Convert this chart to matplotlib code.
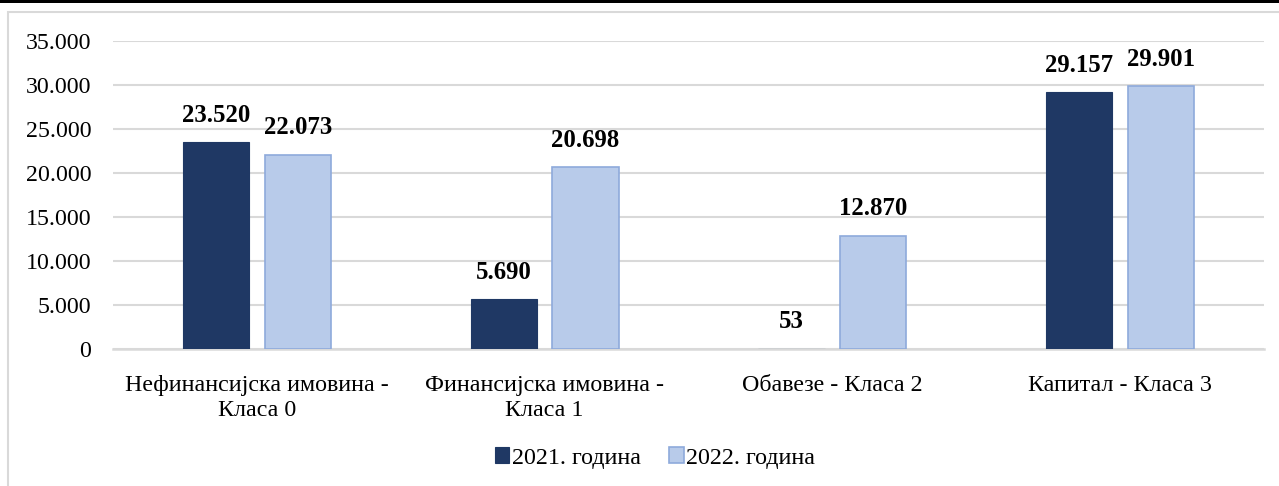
import matplotlib
matplotlib.use('Agg')
from matplotlib import pyplot as plt
from matplotlib.patches import Rectangle
import numpy as np

# Data
categories = ['Нефинансијска имовина -\nКласа 0', 'Финансијска имовина -\nКласа 1',
              'Обавезе - Класа 2', 'Капитал - Класа 3']
series_names = ['2021. година', '2022. година']
values_2021 = [23520, 5690, 53, 29157]
values_2022 = [22073, 20698, 12870, 29901]
y_ticks = [0, 5000, 10000, 15000, 20000, 25000, 30000, 35000]

plt.rcParams['font.family'] = ['Liberation Serif', 'DejaVu Serif']

dark = '#1f3864'
light = '#b8cbea'
light_edge = '#8eaadb'


def fmt(v):
    return '{:,}'.format(v).replace(',', '.')


fig = plt.figure(figsize=(12.79, 4.86), dpi=100)
ax = fig.add_axes([113 / 1279, 1 - 349 / 486, 1151 / 1279, 308 / 486])

# chart frame and top rule
fig.patches.append(Rectangle((8 / 1279, -0.01), 1.1, 1 - 12 / 486 + 0.01,
                             transform=fig.transFigure, fill=False,
                             edgecolor='#d9d9d9', lw=1.5))
fig.patches.append(Rectangle((0, 1 - 3 / 486), 1, 3 / 486, transform=fig.transFigure,
                             facecolor='black', edgecolor='none'))

x = np.arange(len(categories))
w = 0.23
off = 0.142
b1 = ax.bar(x - off, values_2021, w, color=dark, edgecolor=dark, lw=0.8,
            label=series_names[0], zorder=3)
b2 = ax.bar(x + off, values_2022, w, color=light, edgecolor=light_edge, lw=1.2,
            label=series_names[1], zorder=3)

for bars, vals in [(b1, values_2021), (b2, values_2022)]:
    for r, v in zip(bars, vals):
        ax.annotate(fmt(v), (r.get_x() + r.get_width() / 2, v), xytext=(0, 11),
                    textcoords='offset points', ha='center', va='bottom',
                    fontsize=17.8, fontweight='bold')

ax.set_xlim(-0.5, 3.5)
ax.set_ylim(0, 35000)
ax.set_yticks(y_ticks)
ax.set_yticklabels([fmt(t) for t in y_ticks], fontsize=17.2)
ax.set_xticks(x)
ax.set_xticklabels(categories, fontsize=17.3, linespacing=1.2)
ax.tick_params(length=0)
ax.tick_params(axis='y', pad=15.5)
ax.tick_params(axis='x', pad=19)
ax.grid(axis='y', color='#d9d9d9', lw=1.5, zorder=0)
for s in ['top', 'right', 'left']:
    ax.spines[s].set_visible(False)
ax.spines['bottom'].set_color('#d9d9d9')
ax.spines['bottom'].set_linewidth(1.8)

fig.legend(loc='center', bbox_to_anchor=(655 / 1279, 1 - 458 / 486), ncol=2, frameon=False,
           fontsize=17.3, handlelength=0.6, handleheight=0.6, handletextpad=0.1,
           columnspacing=1.2)

fig.savefig('out.png', dpi=100)
